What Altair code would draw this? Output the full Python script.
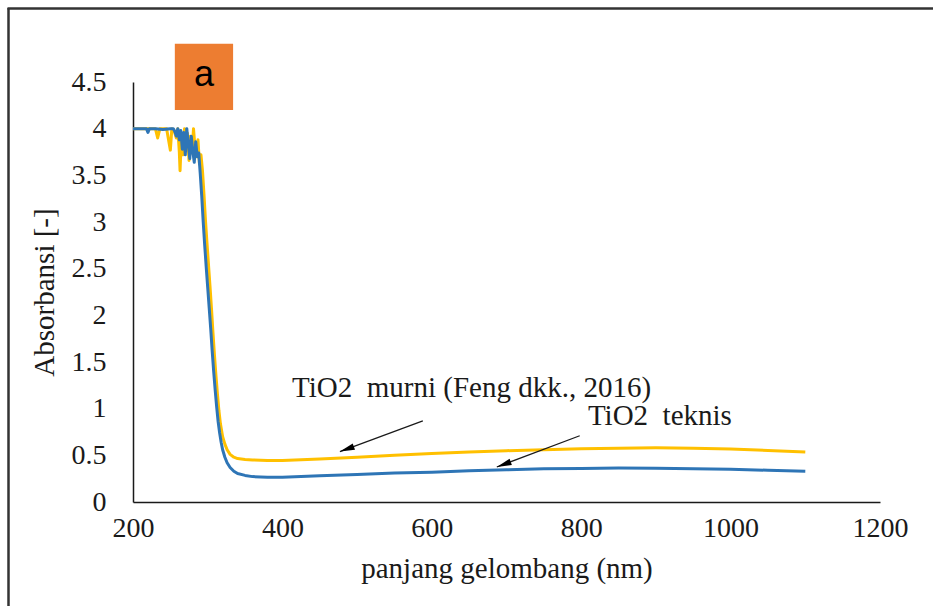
import altair as alt
import pandas as pd

# --- data ---
wl_teknis = [200, 210, 218, 220, 222, 230, 240, 250,
             254, 256, 258, 260, 262, 264, 266, 268, 270, 272, 274, 276, 278, 280, 282, 284, 286, 288, 290,
             292, 294, 296, 298, 300, 302, 304, 306, 308, 310,
             312, 314, 316, 318, 320,
             323, 326, 330, 335, 340, 350, 360, 380, 400,
             450, 500, 550, 600, 650, 700, 750, 800, 850, 900, 950, 1000, 1050, 1100]
abs_teknis = [4.0, 4.0, 4.0, 3.96, 4.0, 4.0, 3.99, 4.0,
              4.0, 3.97, 3.92, 4.0, 3.88, 3.98, 3.78, 3.96, 3.72, 4.0, 3.84, 3.68, 3.92, 3.76, 3.64, 3.86, 3.7, 3.74, 3.52,
              3.28, 3.0, 2.75, 2.52, 2.3, 2.08, 1.86, 1.62, 1.4, 1.2,
              1.02, 0.86, 0.74, 0.64, 0.56,
              0.48, 0.42, 0.37, 0.33, 0.305, 0.285, 0.272, 0.265, 0.265,
              0.28, 0.295, 0.31, 0.32, 0.335, 0.345, 0.355, 0.36, 0.365, 0.362, 0.356, 0.35, 0.34, 0.33]

wl_murni = [200, 215, 230, 233, 236, 245, 250, 252, 255, 258, 260, 262, 263,
            265, 267, 269, 271, 273, 275, 277, 279, 281, 283, 285, 287, 289, 291, 293, 295, 297, 299,
            301, 303, 305, 307, 309, 311, 313, 315, 317,
            320, 323, 326, 330, 335, 340, 350, 360, 380, 400,
            450, 500, 550, 600, 650, 700, 750, 800, 850, 900, 950, 1000, 1050, 1100]
abs_murni = [4.0, 4.0, 4.0, 3.9, 4.0, 4.0, 3.77, 4.0, 3.98, 3.9, 4.0, 3.75, 3.55,
             3.95, 3.72, 4.0, 3.8, 3.95, 3.66, 3.92, 3.74, 4.0, 3.8, 3.7, 3.88, 3.62, 3.72, 3.55, 3.3, 3.02, 2.78,
             2.55, 2.32, 2.08, 1.82, 1.58, 1.36, 1.16, 0.98, 0.84,
             0.7, 0.62, 0.56, 0.51, 0.48, 0.465, 0.455, 0.45, 0.445, 0.445,
             0.46, 0.48, 0.5, 0.52, 0.535, 0.55, 0.56, 0.57, 0.577, 0.58, 0.575, 0.567, 0.552, 0.535]

x_ticks = [200, 400, 600, 800, 1000, 1200]
y_ticks = [0, 0.5, 1, 1.5, 2, 2.5, 3, 3.5, 4, 4.5]

ann_text = ["TiO2\u00a0\u00a0murni (Feng dkk., 2016)", "TiO2\u00a0\u00a0teknis"]
ann_x = [413, 809]
ann_y = [1.125, 0.825]

arrow_x = [588, 798]
arrow_y = [0.87, 0.71]
arrow_x2 = [477, 687]
arrow_y2 = [0.54, 0.375]

box_x = [256, 334]
box_y = [4.2, 4.91]
box_label = "a"

# --- build tables ---
df_t = pd.DataFrame({"wl": wl_teknis, "abs": abs_teknis, "s": "teknis"})
df_m = pd.DataFrame({"wl": wl_murni, "abs": abs_murni, "s": "murni"})
df_ann = pd.DataFrame({"t": ann_text, "x": ann_x, "y": ann_y})
df_arr = pd.DataFrame({"x": arrow_x, "y": arrow_y, "x2": arrow_x2, "y2": arrow_y2})
df_box = pd.DataFrame({"x": [box_x[0]], "x2": [box_x[1]], "y": [box_y[0]], "y2": [box_y[1]],
                       "xc": [(box_x[0] + box_x[1]) / 2], "yc": [(box_y[0] + box_y[1]) / 2],
                       "t": [box_label]})

SERIF = "'Liberation Serif', 'Times New Roman', Times, serif"
xs = alt.Scale(domain=[200, 1200], nice=False, zero=False)
ys = alt.Scale(domain=[0, 4.5], nice=False)

xaxis = alt.Axis(values=x_ticks, ticks=False, grid=False, format="d", labelPadding=12, titlePadding=12,
                 labelFlush=False)
yaxis = alt.Axis(values=y_ticks, ticks=False, grid=False, format="~g", labelPadding=27, titlePadding=12,
                 labelFlush=False)

murni = alt.Chart(df_m).mark_line(color="#FFC000", strokeWidth=3, strokeJoin="round").encode(
    x=alt.X("wl:Q", scale=xs, axis=xaxis, title="panjang gelombang (nm)"),
    y=alt.Y("abs:Q", scale=ys, axis=yaxis, title="Absorbansi [-]"),
)
teknis = alt.Chart(df_t).mark_line(color="#2E75B6", strokeWidth=3, strokeJoin="round").encode(
    x=alt.X("wl:Q", scale=xs), y=alt.Y("abs:Q", scale=ys)
)

texts = alt.Chart(df_ann).mark_text(font=SERIF, fontSize=29, align="left", baseline="alphabetic",
                                    color="#1a1a1a").encode(
    x=alt.X("x:Q", scale=xs), y=alt.Y("y:Q", scale=ys), text="t:N"
)
arrows = alt.Chart(df_arr).mark_rule(color="#1a1a1a", strokeWidth=1.3).encode(
    x=alt.X("x:Q", scale=xs), y=alt.Y("y:Q", scale=ys), x2="x2:Q", y2="y2:Q"
)
heads = alt.Chart(df_arr).mark_point(shape="M0,0L0.45,2L-0.45,2Z", filled=True, size=220, opacity=1,
                                     color="#000000", angle=250).encode(
    x=alt.X("x2:Q", scale=xs), y=alt.Y("y2:Q", scale=ys)
)
box = alt.Chart(df_box).mark_rect(color="#ED7D31").encode(
    x=alt.X("x:Q", scale=xs), x2="x2:Q", y=alt.Y("y:Q", scale=ys), y2="y2:Q"
)
box_t = alt.Chart(df_box).mark_text(font="'Liberation Sans', Arial, sans-serif", fontSize=36,
                                    color="#000000", baseline="middle", align="center", dy=-2).encode(
    x=alt.X("xc:Q", scale=xs), y=alt.Y("yc:Q", scale=ys), text="t:N"
)

one = alt.Data(values=[{"k": 1}])
frame_left = alt.Chart(one).mark_rule(color="#333333", strokeWidth=2.5).encode(
    x=alt.value(-124.5), y=alt.value(-74), y2=alt.value(560)
)
frame_top = alt.Chart(one).mark_rule(color="#333333", strokeWidth=2.5).encode(
    x=alt.value(-125.5), x2=alt.value(820), y=alt.value(-73.5)
)

chart = alt.layer(frame_left, frame_top, murni, teknis, arrows, heads, texts, box, box_t).properties(
    width=747, height=420,
    padding={"left": 133, "top": 82, "right": 53, "bottom": 104},
    autosize=alt.AutoSizeParams(type="none"),
    background="white",
).configure_view(stroke=None).configure_axis(
    labelFont=SERIF, labelFontSize=28, labelColor="#1a1a1a",
    titleFont=SERIF, titleFontSize=29, titleFontWeight="normal", titleColor="#1a1a1a",
    domainColor="#1a1a1a", domainWidth=1.5,
)

chart.save("out.html", embed_options={"renderer": "svg", "actions": False})
